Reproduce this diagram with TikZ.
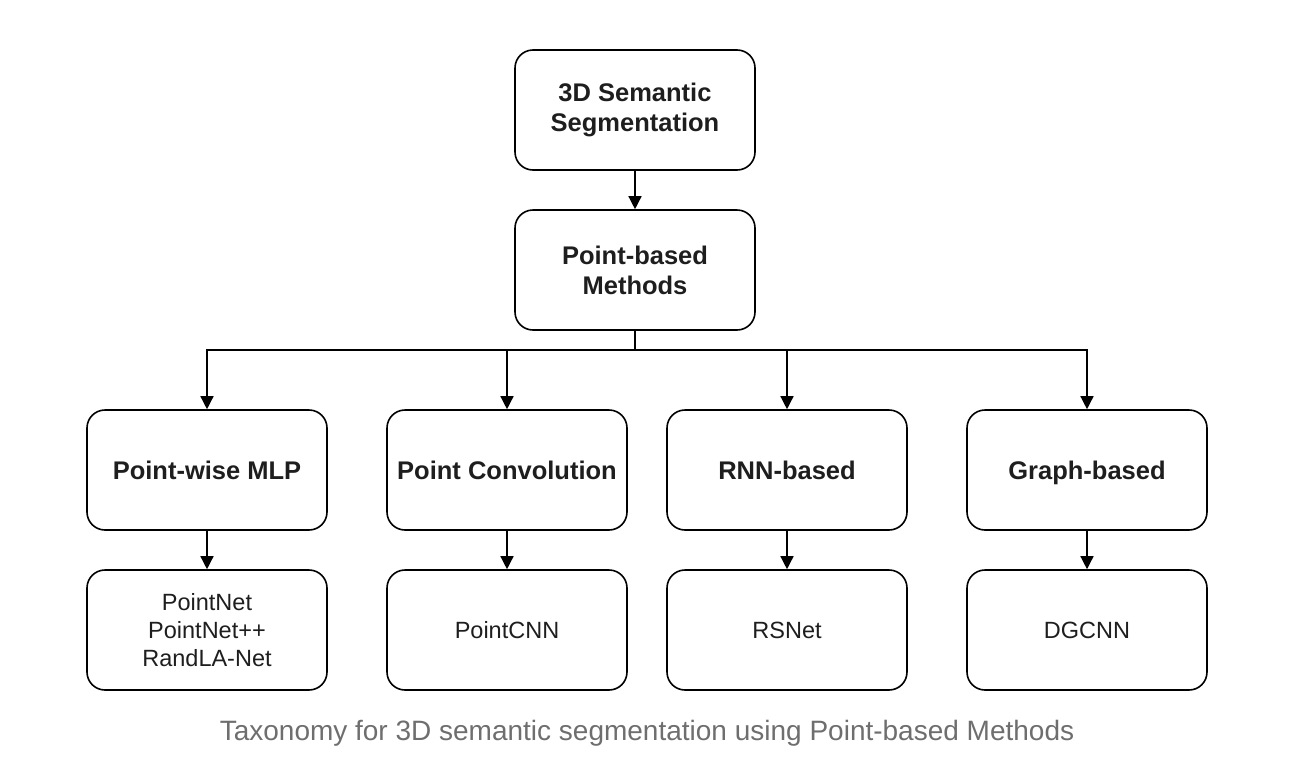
\documentclass[tikz,border=0pt]{standalone}
\usepackage{fontspec}
\setmainfont{Liberation Sans}
\usetikzlibrary{arrows.meta, positioning}
\definecolor{capgray}{HTML}{6E6E6E}
\definecolor{inkgray}{HTML}{1E1E1E}

\begin{document}
\begin{tikzpicture}[x=1pt, y=-1pt,
  tbox/.style={draw, line width=1.6pt, rounded corners=18pt, minimum width=240pt, minimum height=120pt, align=center, inner sep=0pt, text=inkgray},
  headbox/.style={tbox, font=\fontsize{25.5}{30}\selectfont\bfseries},
  leafbox/.style={tbox, font=\fontsize{23.5}{28}\selectfont},
  >={Triangle[width=13pt, length=13pt]},
  link/.style={draw, ->, line width=1.4pt}
]
  \useasboundingbox (0,0) rectangle (1300,766);
  \node[headbox] (seg) at (635,110) {3D Semantic\\Segmentation};
  \node[headbox] (pbm) at (635,270) {Point-based\\Methods};

  \node[headbox] (mlp)   at (207,470)  {Point-wise MLP};
  \node[headbox] (conv)  at (507,470)  {Point Convolution};
  \node[headbox] (rnn)   at (787,470)  {RNN-based};
  \node[headbox] (graph) at (1087,470) {\raisebox{0pt}[\height][0pt]{Graph-based}};

  \node[leafbox] (pnet)  at (207,630)  {PointNet\\PointNet++\\RandLA-Net};
  \node[leafbox] (pcnn)  at (507,630)  {PointCNN};
  \node[leafbox] (rsnet) at (787,630)  {RSNet};
  \node[leafbox] (dgcnn) at (1087,630) {DGCNN};

  \coordinate (split) at (635,350);

  \draw[link] (seg) -- (pbm);
  \draw[line width=1.4pt] (pbm) -- (split);
  \foreach \kid in {mlp, conv, rnn, graph}
    \draw[link] (split) -| (\kid);
  \draw[link] (mlp) -- (pnet);
  \draw[link] (conv) -- (pcnn);
  \draw[link] (rnn) -- (rsnet);
  \draw[link] (graph) -- (dgcnn);

  \node[text=capgray, font=\fontsize{28}{32}\selectfont] (cap) at (647,733) {Taxonomy for 3D semantic segmentation using Point-based Methods};
\end{tikzpicture}
\end{document}
